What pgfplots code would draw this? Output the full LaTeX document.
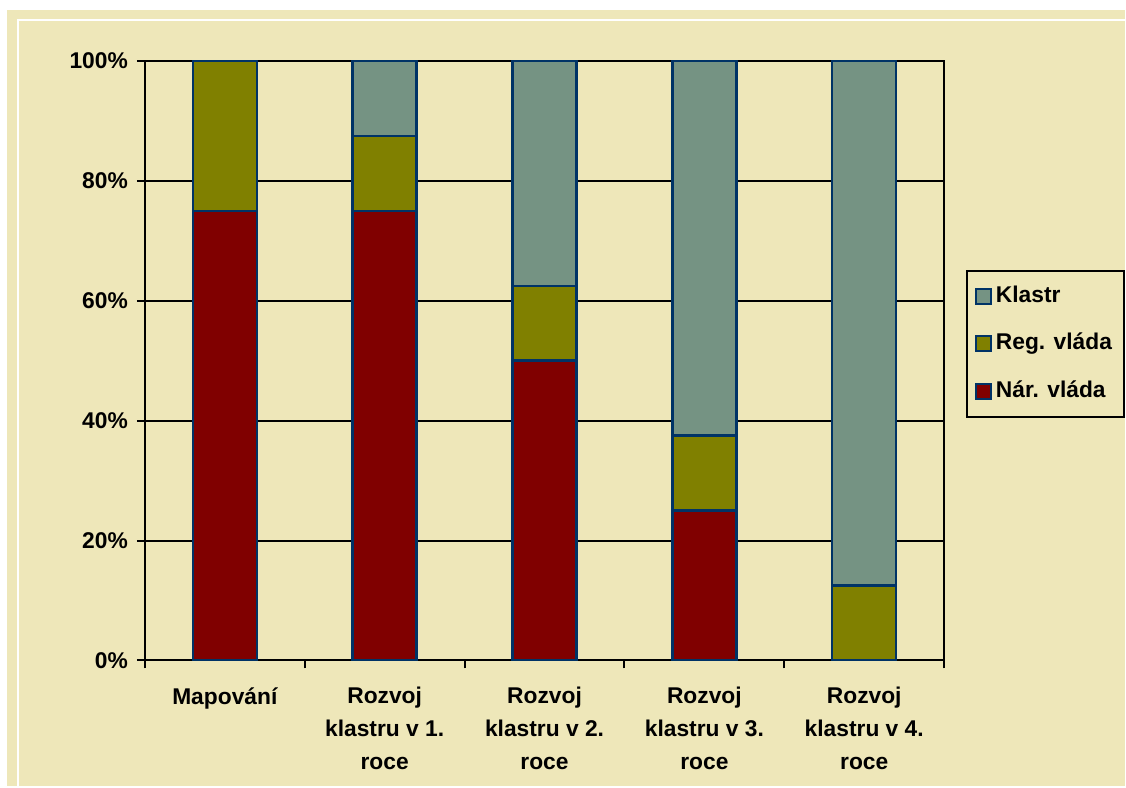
\documentclass[border=0pt]{standalone}
\usepackage{pgfplots}
\pgfplotsset{compat=1.18}
\usepackage{fontspec}
\setmainfont{Liberation Sans}
\definecolor{bg}{RGB}{238,231,185}
\definecolor{klastr}{RGB}{117,147,131}
\definecolor{olivec}{RGB}{128,128,0}
\definecolor{maroonc}{RGB}{128,0,0}
\definecolor{navy}{RGB}{0,51,102}
\begin{document}
\begin{tikzpicture}
\fill[white] (-72.5pt,-63pt) rectangle (490.5pt,330.5pt);
\fill[bg] (-69pt,-63pt) rectangle (490.5pt,325.5pt);
\draw[white, line width=1pt] (-63.5pt,-63pt) -- (-63.5pt,320.5pt) -- (490.5pt,320.5pt);
\begin{axis}[
  at={(0pt,0pt)}, anchor=south west,
  scale only axis, width=400pt, height=300pt,
  ybar stacked, bar width=32pt,
  xmin=-0.5, xmax=4.5, ymin=0, ymax=100,
  axis line style={black, line width=1pt},
  tick align=outside,
  xtick pos=lower, ytick pos=left,
  major tick length=4pt,
  tick style={black, line width=1pt},
  ytick={0,20,40,60,80,100},
  yticklabels={0\%,20\%,40\%,60\%,80\%,100\%},
  ymajorgrids, grid style={black, line width=1pt},
  xtick={-0.5,0.5,1.5,2.5,3.5,4.5},
  xticklabels={},
  extra x ticks={0,1,2,3,4},
  extra x tick labels={Mapování,{Rozvoj\\klastru v 1.\\roce},{Rozvoj\\klastru v 2.\\roce},{Rozvoj\\klastru v 3.\\roce},{Rozvoj\\klastru v 4.\\roce}},
  extra x tick style={major tick length=0pt, xticklabel style={align=center, font=\fontsize{11.4}{16.3}\selectfont\bfseries, yshift=-10pt}},
  yticklabel style={font=\fontsize{11.4}{13}\selectfont\bfseries, xshift=-1pt},
  legend style={at={(1.0275,0.6517)}, anchor=north west, draw=black, line width=1pt, fill=bg,
    font=\fontsize{11.4}{13}\selectfont\bfseries, row sep=9.5pt, inner xsep=4pt, inner ysep=5.5pt,
    nodes={inner xsep=1.8pt, text height=8.2pt, text depth=2.2pt}},
  legend cell align=left,
  reverse legend,
  legend image code/.code={\draw[#1, line width=1pt] (0pt,-3.8pt) rectangle (7.6pt,3.8pt);},
  every axis plot/.append style={draw=navy, line width=1.2pt},
]
\addplot[fill=maroonc, draw=navy] coordinates {(0,75) (1,75) (2,50) (3,25) (4,0)};
\addplot[fill=olivec, draw=navy] coordinates {(0,25) (1,12.5) (2,12.5) (3,12.5) (4,12.5)};
\addplot[fill=klastr, draw=navy] coordinates {(0,0) (1,12.5) (2,37.5) (3,62.5) (4,87.5)};
\legend{Nár. vláda, Reg. vláda, Klastr}
\end{axis}
\end{tikzpicture}
\end{document}
